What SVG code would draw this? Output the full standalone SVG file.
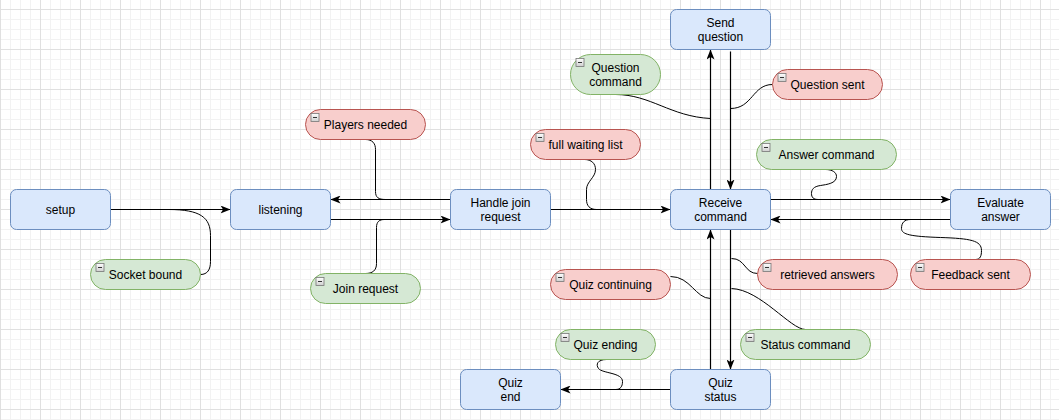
<svg xmlns="http://www.w3.org/2000/svg" width="1059" height="420" viewBox="0 0 1059 420">
<style>
.node rect{fill:#dae8fc;stroke:#6c8ebf;stroke-width:1}
.green rect.pill{fill:#d5e8d4;stroke:#82b366;stroke-width:1}
.red rect.pill{fill:#f8cecc;stroke:#b85450;stroke-width:1}
rect.icon{fill:url(#ig);stroke:#777;stroke-width:0.8}
path.minus{stroke:#333;stroke-width:1}
text{font-family:"Liberation Sans",Arial,Helvetica,sans-serif;font-size:12px;fill:#000;text-anchor:middle}
.edge{fill:none;stroke:#000;stroke-width:1.2;marker-end:url(#arrow)}
.link{fill:none;stroke:#000;stroke-width:1}
</style>
<defs>
<pattern id="grid" patternUnits="userSpaceOnUse" x="0" y="9" width="40" height="40">
<rect width="40" height="40" fill="#fff"/>
<rect x="10" y="0" width="1" height="40" fill="#f2f2f2"/>
<rect x="20" y="0" width="1" height="40" fill="#f2f2f2"/>
<rect x="30" y="0" width="1" height="40" fill="#f2f2f2"/>
<rect x="0" y="10" width="40" height="1" fill="#f2f2f2"/>
<rect x="0" y="20" width="40" height="1" fill="#f2f2f2"/>
<rect x="0" y="30" width="40" height="1" fill="#f2f2f2"/>
<rect x="0" y="0" width="1" height="40" fill="#e0e0e0"/>
<rect x="0" y="0" width="40" height="1" fill="#e0e0e0"/>
</pattern>
<linearGradient id="ig" x1="0" y1="0" x2="0" y2="1">
<stop offset="0" stop-color="#ffffff"/>
<stop offset="1" stop-color="#cfcfcf"/>
</linearGradient>
<marker id="arrow" markerUnits="userSpaceOnUse" viewBox="0 0 10 8" refX="10" refY="4" markerWidth="10" markerHeight="8" orient="auto">
<path d="M0,0 L10,4 L0,8 L2.5,4 Z" fill="#000"/>
</marker>
</defs>
<rect width="1059" height="420" fill="url(#grid)"/>
<g transform="translate(0.5,-0.5)">
<g id="connectors">
<path class="edge" d="M110 210 H230"/>
<path class="edge" d="M450 200 H330"/>
<path class="edge" d="M330 220 H450"/>
<path class="edge" d="M550 210 H670"/>
<path class="edge" d="M770 200 H950"/>
<path class="edge" d="M950 220 H770"/>
<path class="edge" d="M710 190 V50"/>
<path class="edge" d="M730 52 V190"/>
<path class="edge" d="M710 370 V230"/>
<path class="edge" d="M730 230 V370"/>
<path class="edge" d="M670 390 H560"/>
<path class="link" d="M200 275 C207 275 210 270 210 262 L210 236 C210 218 200 210 168 210"/>
<path class="link" d="M365 274 C372 274 376 271 376 264 L376 228 C376 222 379 220 384 220"/>
<path class="link" d="M365 140 C372 140 375 144 375 150 L375 192 C375 198 378 200 385 200"/>
<path class="link" d="M584 160 C591 160 595 164 595 170 C595 178 586 182 586 190 L586 200 C586 206 589 210 596 210"/>
<path class="link" d="M615 95 C650 95 670 117 710 119"/>
<path class="link" d="M772 85 C752 85 752 109 730 109"/>
<path class="link" d="M825 170 C832 170 836 173 836 177 C836 184 826 185 820 186 C813 187 811 190 811 194 C811 198 813 200 818 200"/>
<path class="link" d="M975 260 C980 260 981 256 981 251 C981 241 970 239 940 238 C910 237 901 235 901 229 C901 223 904 220 910 220"/>
<path class="link" d="M757 274 C744 274 745 259 731 259"/>
<path class="link" d="M670 277 C690 277 695 299 710 299"/>
<path class="link" d="M805 330 C790 330 760 290 731 289"/>
<path class="link" d="M606 360 C597 360 595 365 598 369 C602 374 622 373 622 382 C622 387 620 390 615 390"/>
</g>
<g id="setup" class="node"><rect x="10" y="190" width="100" height="40" rx="6"/><text x="60" y="214">setup</text></g>
<g id="listening" class="node"><rect x="230" y="190" width="100" height="40" rx="6"/><text x="280" y="214">listening</text></g>
<g id="handle-join" class="node"><rect x="450" y="190" width="100" height="40" rx="6"/><text x="500" y="207">Handle join</text><text x="500" y="221">request</text></g>
<g id="receive-command" class="node"><rect x="670" y="190" width="100" height="40" rx="6"/><text x="720" y="207">Receive</text><text x="720" y="221">command</text></g>
<g id="evaluate-answer" class="node"><rect x="950" y="190" width="100" height="40" rx="6"/><text x="1000" y="207">Evaluate</text><text x="1000" y="221">answer</text></g>
<g id="send-question" class="node"><rect x="670" y="10" width="100" height="40" rx="6"/><text x="720" y="27">Send</text><text x="720" y="41">question</text></g>
<g id="quiz-status" class="node"><rect x="670" y="370" width="100" height="40" rx="6"/><text x="720" y="387">Quiz</text><text x="720" y="401">status</text></g>
<g id="quiz-end" class="node"><rect x="460" y="370" width="100" height="40" rx="6"/><text x="510" y="387">Quiz</text><text x="510" y="401">end</text></g>

<g id="socket-bound" class="green"><rect class="pill" x="90" y="260" width="110" height="30" rx="15"/><rect class="icon" x="95.5" y="264" width="8" height="8"/><path class="minus" d="M97.5 268 H101.5"/><text x="145" y="279">Socket bound</text></g>
<g id="join-request" class="green"><rect class="pill" x="310" y="274" width="110" height="30" rx="15"/><rect class="icon" x="315.5" y="278" width="8" height="8"/><path class="minus" d="M317.5 282 H321.5"/><text x="365" y="293">Join request</text></g>
<g id="players-needed" class="red"><rect class="pill" x="305" y="110" width="120" height="30" rx="15"/><rect class="icon" x="310.5" y="114" width="8" height="8"/><path class="minus" d="M312.5 118 H316.5"/><text x="365" y="129">Players needed</text></g>
<g id="full-waiting-list" class="red"><rect class="pill" x="530" y="130" width="110" height="30" rx="15"/><rect class="icon" x="535.5" y="134" width="8" height="8"/><path class="minus" d="M537.5 138 H541.5"/><text x="585" y="149">full waiting list</text></g>
<g id="question-command" class="green"><rect class="pill" x="570" y="55" width="90" height="40" rx="20"/><rect class="icon" x="575.5" y="59" width="8" height="8"/><path class="minus" d="M577.5 63 H581.5"/><text x="615" y="72">Question</text><text x="615" y="86">command</text></g>
<g id="question-sent" class="red"><rect class="pill" x="772" y="70" width="110" height="30" rx="15"/><rect class="icon" x="777.5" y="74" width="8" height="8"/><path class="minus" d="M779.5 78 H783.5"/><text x="827" y="89">Question sent</text></g>
<g id="answer-command" class="green"><rect class="pill" x="756" y="140" width="140" height="30" rx="15"/><rect class="icon" x="761.5" y="144" width="8" height="8"/><path class="minus" d="M763.5 148 H767.5"/><text x="826" y="159">Answer command</text></g>
<g id="feedback-sent" class="red"><rect class="pill" x="910" y="260" width="120" height="30" rx="15"/><rect class="icon" x="915.5" y="264" width="8" height="8"/><path class="minus" d="M917.5 268 H921.5"/><text x="970" y="279">Feedback sent</text></g>
<g id="retrieved-answers" class="red"><rect class="pill" x="757" y="260" width="140" height="30" rx="15"/><rect class="icon" x="762.5" y="264" width="8" height="8"/><path class="minus" d="M764.5 268 H768.5"/><text x="827" y="279">retrieved answers</text></g>
<g id="quiz-continuing" class="red"><rect class="pill" x="550" y="270" width="120" height="30" rx="15"/><rect class="icon" x="555.5" y="274" width="8" height="8"/><path class="minus" d="M557.5 278 H561.5"/><text x="610" y="289">Quiz continuing</text></g>
<g id="status-command" class="green"><rect class="pill" x="740" y="330" width="130" height="30" rx="15"/><rect class="icon" x="745.5" y="334" width="8" height="8"/><path class="minus" d="M747.5 338 H751.5"/><text x="805" y="349">Status command</text></g>
<g id="quiz-ending" class="green"><rect class="pill" x="555" y="330" width="100" height="30" rx="15"/><rect class="icon" x="560.5" y="334" width="8" height="8"/><path class="minus" d="M562.5 338 H566.5"/><text x="605" y="349">Quiz ending</text></g>
</g>
</svg>
